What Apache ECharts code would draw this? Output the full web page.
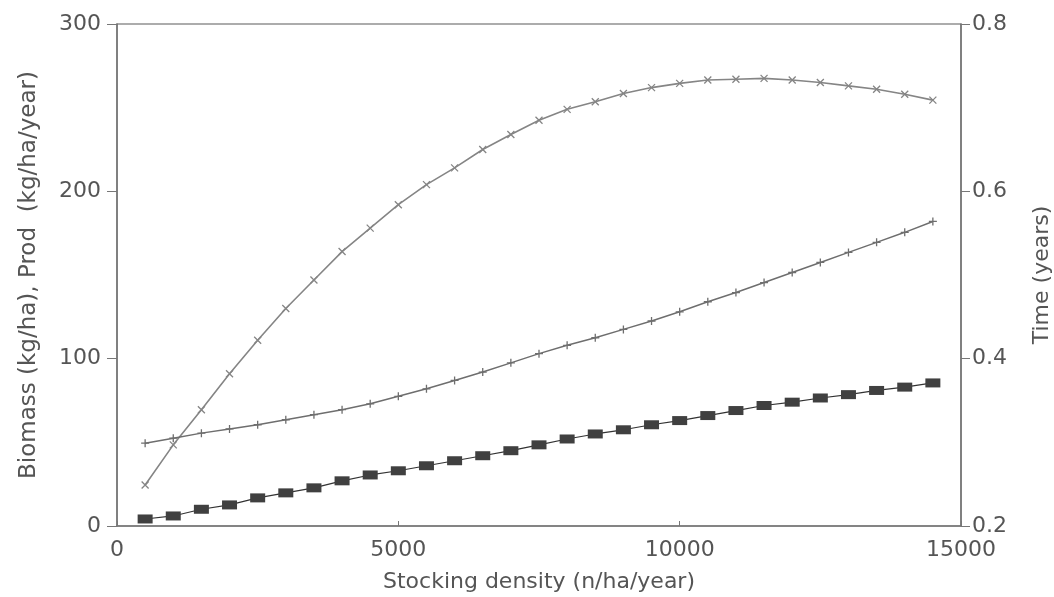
<!DOCTYPE html>
<html>
<head>
<meta charset="utf-8">
<script src="https://cdn.jsdelivr.net/npm/echarts@6/dist/echarts.min.js"></script>
<style>
  html, body { margin: 0; padding: 0; background: #fff; }
  #chart { width: 1054px; height: 597px; }
</style>
</head>
<body>
<div id="chart"></div>
<script>
// Stocking density (n/ha/year)
const density = [500, 1000, 1500, 2000, 2500, 3000, 3500, 4000, 4500, 5000,
  5500, 6000, 6500, 7000, 7500, 8000, 8500, 9000, 9500, 10000,
  10500, 11000, 11500, 12000, 12500, 13000, 13500, 14000, 14500];

// Production (kg/ha/year), left axis
const production = [24.5, 48.5, 69.5, 91, 111, 130, 147, 164, 178, 192,
  204, 214, 225, 234, 242.5, 249, 253.5, 258.5, 262, 264.5,
  266.5, 267, 267.5, 266.5, 265, 263, 261, 258, 254.5];

// Time to harvest (years), right axis
const timeYears = [0.299, 0.305, 0.311, 0.316, 0.321, 0.327, 0.333, 0.339, 0.346, 0.355,
  0.364, 0.374, 0.384, 0.395, 0.406, 0.416, 0.425, 0.435, 0.445, 0.456,
  0.468, 0.479, 0.491, 0.503, 0.515, 0.527, 0.539, 0.551, 0.564];

// Standing biomass (kg/ha), left axis
const biomass = [4.2, 6, 10, 12.6, 16.8, 19.8, 22.8, 27, 30.5, 33,
  36, 39, 42, 45, 48.5, 52, 55, 57.5, 60.5, 63,
  66, 69, 72, 74, 76.5, 78.5, 81, 83, 85.5];

const xTicks = [0, 5000, 10000, 15000];
const leftTicks = [0, 100, 200, 300];
const rightTicks = [0.2, 0.4, 0.6, 0.8];

const pair = (xs, ys) => xs.map((x, i) => [x, ys[i]]);

const FONT = 'DejaVu Sans, sans-serif';
const TEXT = '#555';
const AXIS = '#777';

const chart = echarts.init(document.getElementById('chart'));
chart.setOption({
  animation: false,
  backgroundColor: '#fff',
  grid: {
    left: 117, right: 93, top: 24, bottom: 71,
    outerBoundsMode: 'none', containLabel: false,
    show: true, borderColor: '#5a5a5a', borderWidth: 1.2, backgroundColor: 'transparent'
  },
  xAxis: {
    type: 'value', min: xTicks[0], max: xTicks[xTicks.length - 1], interval: 5000,
    name: 'Stocking density (n/ha/year)', nameLocation: 'middle', nameGap: 45,
    nameTextStyle: { fontFamily: FONT, fontSize: 22, color: TEXT },
    axisLine: { lineStyle: { color: AXIS, width: 1.5 } },
    axisTick: { inside: true, length: 5, lineStyle: { color: AXIS } },
    axisLabel: { fontFamily: FONT, fontSize: 22, color: TEXT, margin: 13,
      formatter: v => String(v) },
    splitLine: { show: false }
  },
  yAxis: [
    {
      type: 'value', min: leftTicks[0], max: leftTicks[leftTicks.length - 1], interval: 100,
      name: 'Biomass (kg/ha), Prod  (kg/ha/year)', nameLocation: 'middle', nameGap: 76, nameRotate: 90,
      nameTextStyle: { fontFamily: FONT, fontSize: 23, color: TEXT },
      axisLine: { show: true, lineStyle: { color: AXIS, width: 1.5 } },
      axisTick: { show: true, length: 10, lineStyle: { color: AXIS } },
      axisLabel: { fontFamily: FONT, fontSize: 22, color: TEXT, margin: 16 },
      splitLine: { show: false }
    },
    {
      type: 'value', min: rightTicks[0], max: rightTicks[rightTicks.length - 1], interval: 0.2,
      position: 'right',
      name: 'Time (years)', nameLocation: 'middle', nameGap: 70, nameRotate: 90,
      nameTextStyle: { fontFamily: FONT, fontSize: 22, color: TEXT },
      axisLine: { show: true, lineStyle: { color: AXIS, width: 1.5 } },
      axisTick: { show: true, length: 9, lineStyle: { color: AXIS } },
      axisLabel: { fontFamily: FONT, fontSize: 22, color: TEXT, margin: 11,
        formatter: v => v.toFixed(1) },
      splitLine: { show: false }
    }
  ],
  series: [
    {
      name: 'Production', type: 'line', yAxisIndex: 0,
      data: pair(density, production),
      symbol: 'path://M0 0L10 10M10 0L0 10', symbolSize: 7,
      lineStyle: { color: '#858585', width: 1.6 },
      itemStyle: { color: '#858585', borderColor: '#858585', borderWidth: 1.3 }
    },
    {
      name: 'Time', type: 'line', yAxisIndex: 1,
      data: pair(density, timeYears),
      symbol: 'path://M5 0L5 10M0 5L10 5', symbolSize: 8,
      lineStyle: { color: '#6e6e6e', width: 1.5 },
      itemStyle: { color: '#6e6e6e', borderColor: '#6e6e6e', borderWidth: 1.3 }
    },
    {
      name: 'Biomass', type: 'line', yAxisIndex: 0,
      data: pair(density, biomass),
      symbol: 'rect', symbolSize: [15, 9],
      lineStyle: { color: '#333', width: 1.2 },
      itemStyle: { color: '#404040' }
    }
  ]
});
</script>
</body>
</html>
